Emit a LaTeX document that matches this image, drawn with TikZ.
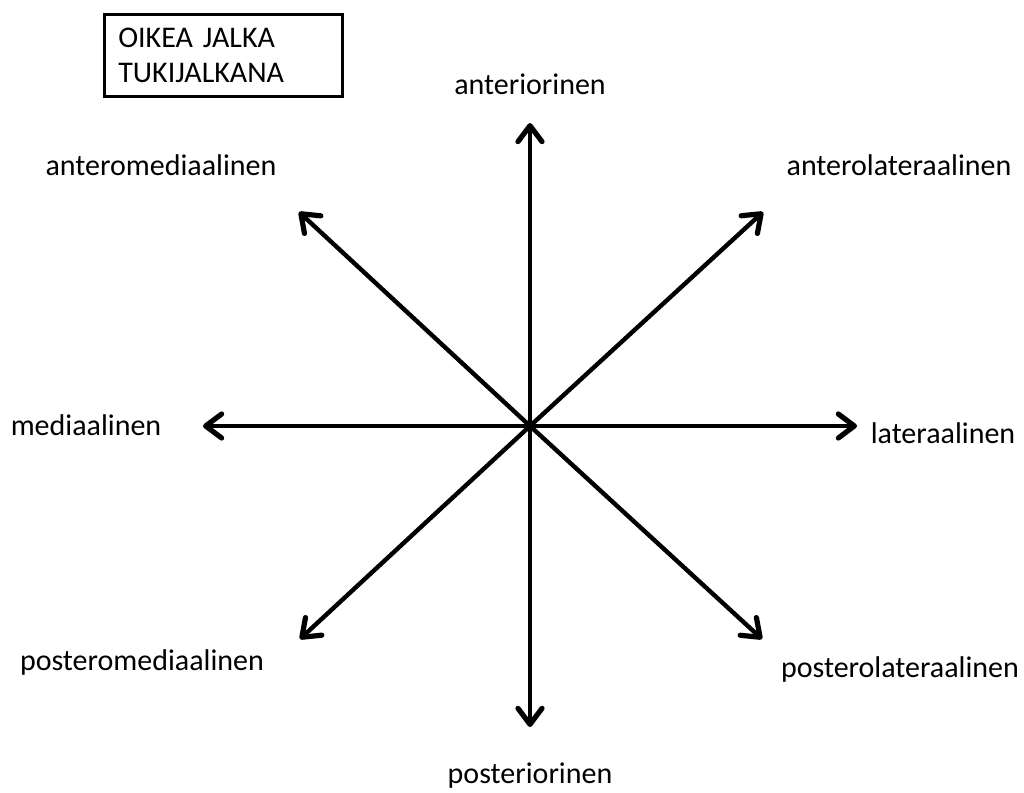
\documentclass[tikz,border=0pt]{standalone}
\usepackage{fontspec}
\setmainfont{Carlito}
\usetikzlibrary{arrows.meta}

\tikzset{
	suunta/.style={line width=2.2pt, ->, line cap=round},
	nimi/.style={font=\fontsize{15}{17.5}\selectfont},
}

\begin{document}
\begin{tikzpicture}[x=0.5pt, y=-0.5pt, >={Straight Barb[length=8pt,width=12pt,line width=2.6pt,round]}]
	\useasboundingbox (0,0) rectangle (1024,793);
	
	\coordinate (O) at (530,426);
	\coordinate (A) at (530,123);
	\coordinate (P) at (530,727);
	\coordinate (M) at (203,426);
	\coordinate (L) at (857,426);
	\coordinate (AM) at (299,212);
	\coordinate (AL) at (763,212);
	\coordinate (PM) at (300,639);
	\coordinate (PL) at (762,639);
	
	\draw[suunta] (O) -- (A);
	\draw[suunta] (O) -- (P);
	\draw[suunta] (O) -- (M);
	\draw[suunta] (O) -- (L);
	\draw[suunta] (O) -- (AM);
	\draw[suunta] (O) -- (AL);
	\draw[suunta] (O) -- (PM);
	\draw[suunta] (O) -- (PL);
	
	\node[nimi] (anterior) at (530,84) {anteriorinen};
	\node[nimi] (posterior) at (530,776) {posteriorinen};
	\node[nimi] (medial) at (86,425) {mediaalinen};
	\node[nimi] (lateral) at (943,433) {lateraalinen};
	\node[nimi] (antmed) at (161,165) {anteromediaalinen};
	\node[nimi] (antlat) at (899,165) {anterolateraalinen};
	\node[nimi] (postmed) at (142,662) {posteromediaalinen};
	\node[nimi] (postlat) at (900,669) {posterolateraalinen};
	
	\node[nimi, draw, line width=1.3pt, anchor=north west, inner xsep=7pt, inner ysep=0pt,
		text width=105pt, minimum height=41pt, align=left] (jalka) at (103,13)
		{OIKEA JALKA\\TUKIJALKANA};
\end{tikzpicture}
\end{document}
